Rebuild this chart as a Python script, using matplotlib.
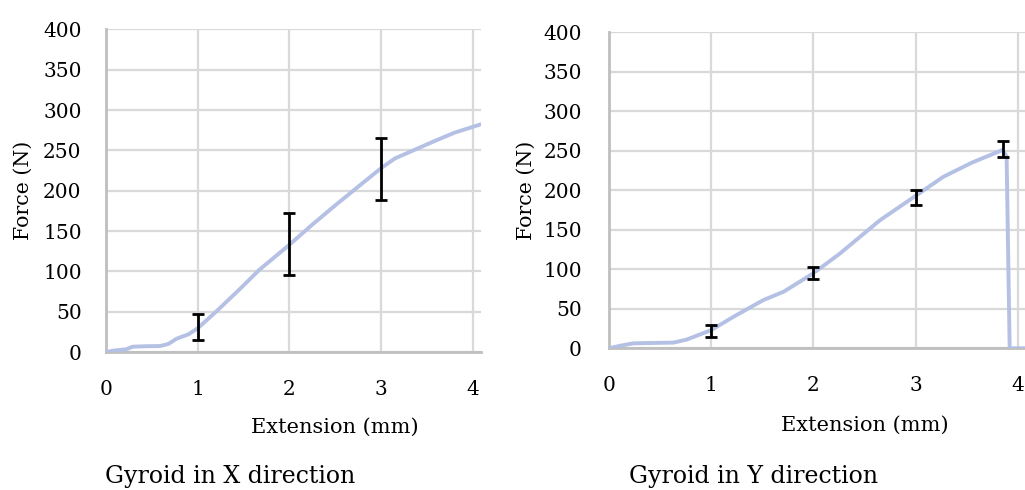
import matplotlib
matplotlib.use("Agg")
from matplotlib import pyplot as plt

plt.rcParams['font.family'] = ['DejaVu Serif']

# Gyroid, loading in X direction
ext_x = [0.0, 0.1, 0.22, 0.29, 0.45, 0.59, 0.68, 0.77, 0.9, 1.0, 1.2, 1.45, 1.67, 2.0, 2.25, 2.48, 2.75, 3.0, 3.15, 3.32, 3.57, 3.8, 4.09]
force_x = [0.0, 2.0, 3.3, 6.6, 7.2, 7.4, 10, 16.5, 22, 29.4, 50, 77, 101.7, 133, 158, 180, 205, 228, 240, 248.5, 261, 272, 282.5]
err_pos_x = [1, 2, 3]
err_mean_x = [31.5, 134, 227]
err_sd_x = [16, 39, 39]

# Gyroid, loading in Y direction
ext_y = [0.0, 0.12, 0.24, 0.45, 0.63, 0.76, 1.0, 1.22, 1.51, 1.71, 2.0, 2.26, 2.65, 3.0, 3.27, 3.55, 3.85, 3.89, 3.92, 4.1]
force_y = [0.0, 3.5, 6.3, 6.8, 7.2, 11, 23, 40, 61, 71.7, 95, 120, 162, 193, 217, 235, 251, 243, 0, 0]
err_pos_y = [1, 2, 3, 3.85]
err_mean_y = [22, 95.5, 191, 252.5]
err_sd_y = [8, 7.5, 9, 10.5]

line_col = '#b4c0e4'
grid_col = '#d9d9d9'
spine_col = '#bfbfbf'

fig = plt.figure(figsize=(10.25, 4.9), dpi=100)
ax1 = fig.add_axes([0.1034, 0.2816, 0.3659, 0.6582])
ax2 = fig.add_axes([0.5941, 0.2892, 0.4059, 0.6449])


def style(ax, xmax, ypad):
    ax.set_xlim(0, xmax)
    ax.set_ylim(0, 400)
    ax.set_xticks([0, 1, 2, 3, 4])
    ax.set_yticks(range(0, 401, 50))
    ax.grid(True, color=grid_col, linewidth=1.6)
    ax.set_axisbelow(True)
    for s in ['top', 'right']:
        ax.spines[s].set_visible(False)
    for s in ['left', 'bottom']:
        ax.spines[s].set_color(spine_col)
        ax.spines[s].set_linewidth(2)
    ax.tick_params(length=0, labelsize=14.5, colors='black')
    ax.tick_params(axis='x', pad=20)
    ax.tick_params(axis='y', pad=ypad)
    ax.set_ylabel('Force (N)', fontsize=14.8)


ax1.plot(ext_x, force_x, color=line_col, linewidth=2.8, solid_capstyle='round', zorder=3)
ax1.errorbar(err_pos_x, err_mean_x, yerr=err_sd_x, fmt='none', ecolor='black',
             elinewidth=2.0, capsize=4, capthick=2.0, zorder=4)
style(ax1, 4.09, 17.5)
ax1.yaxis.set_label_coords(-0.195, 0.5)

ax2.plot(ext_y, force_y, color=line_col, linewidth=2.8, solid_capstyle='round', zorder=3)
ax2.errorbar(err_pos_y, err_mean_y, yerr=err_sd_y, fmt='none', ecolor='black',
             elinewidth=2.0, capsize=4, capthick=2.0, zorder=4)
style(ax2, 4.07, 19.5)
ax2.yaxis.set_label_coords(-0.176, 0.5)

fig.text(334.5 / 1025, 1 - 427 / 490, 'Extension (mm)', ha='center', va='center', fontsize=15)
fig.text(864.5 / 1025, 1 - 425 / 490, 'Extension (mm)', ha='center', va='center', fontsize=15)
fig.text(105 / 1025, 1 - 476 / 490, 'Gyroid in X direction', ha='left', va='center', fontsize=17)
fig.text(629 / 1025, 1 - 476 / 490, 'Gyroid in Y direction', ha='left', va='center', fontsize=17)

fig.savefig('out.png', dpi=100)
